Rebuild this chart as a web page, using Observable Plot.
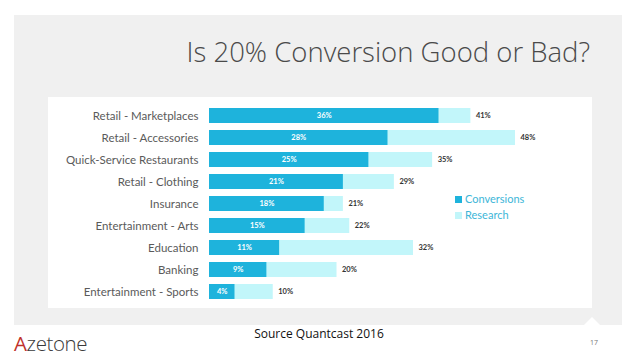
<!DOCTYPE html>
<html><head><meta charset="utf-8">
<script src="https://cdn.jsdelivr.net/npm/d3@7"></script>
<script src="https://cdn.jsdelivr.net/npm/@observablehq/plot@0.6"></script>
<style>
body{margin:0;width:638px;height:359px;background:#fff;position:relative;overflow:hidden;font-family:"Open Sans",sans-serif}
#panel{position:absolute;left:14px;top:15px;width:608px;height:310px;background:#f0f0f0}
#notch{position:absolute;left:584px;top:317px;width:0;height:0;border-left:8px solid transparent;border-right:8px solid transparent;border-bottom:8px solid #fff}
#title{position:absolute;right:48px;top:35px;font-size:27.5px;line-height:34px;font-weight:300;color:#4a4a4a;white-space:nowrap}
#box{position:absolute;left:48px;top:97px;width:544px;height:211px;background:#fff}
#chart{position:absolute;left:0;top:0}
#legend{position:absolute;left:407px;top:94px;font-family:Lato,sans-serif;font-size:11px;color:#3db6d8;line-height:16px}
#legend .sw{display:inline-block;width:7px;height:7px;margin-right:3px;vertical-align:0px}
#caption{position:absolute;left:0;width:638px;top:325px;text-align:center;font-size:12px;color:#111}
#logo{position:absolute;left:14px;top:329px;font-size:20.5px;font-weight:300;color:#3a3a3a;letter-spacing:-0.4px}
#logo span{color:#c0302a;font-weight:400}
#page{position:absolute;left:590px;top:338px;font-size:7px;color:#777}
</style>
</head><body>
<div id="panel"></div>
<div id="notch"></div>
<div id="title">Is 20% Conversion Good or Bad?</div>
<div id="box"><div id="chart"></div><div id="legend"></div></div>
<div id="caption">Source Quantcast 2016</div>
<div id="logo"><span>A</span>zetone</div>
<div id="page">17</div>
<script>
const categories = ["Retail - Marketplaces","Retail - Accessories","Quick-Service Restaurants","Retail - Clothing","Insurance","Entertainment - Arts","Education","Banking","Entertainment - Sports"];
const conversions = [36,28,25,21,18,15,11,9,4];
const research = [41,48,35,29,21,22,32,20,10];
const threshold = 20;
const seriesNames = ["Conversions","Research"];
const seriesColors = ["#1eb3dc","#c2f6fa"];

const rows = categories.map((c,i)=>({category:c, conv:conversions[i], res:research[i]}));

const chart = Plot.plot({
  width:544, height:211,
  marginLeft:161, marginRight:77, marginTop:4, marginBottom:3,
  x:{domain:[0,48], axis:null},
  y:{domain:categories, paddingInner:0.34, paddingOuter:0.17, label:null, tickSize:0, tickPadding:11},
  style:{fontFamily:"Lato, sans-serif", fontSize:"11.5px", color:"#5a5a5a", background:"transparent"},
  marks:[
    Plot.barX(rows,{y:"category", x:"res", fill:seriesColors[1]}),
    Plot.barX(rows,{y:"category", x:"conv", fill:seriesColors[0]}),
    Plot.text(rows,{y:"category", x:d=>d.conv/2, text:d=>d.conv+"%", fill:"white", fontWeight:"bold", fontSize:7.5}),
    Plot.text(rows,{y:"category", x:"res", text:d=>d.res+"%", dx:5, textAnchor:"start", fill:"#333", fontWeight:"bold", fontSize:7.5}),
    Plot.ruleX([threshold],{y1:categories[0], y2:categories[categories.length-1], stroke:"#b0252a", strokeWidth:1})
  ]
});
document.getElementById("chart").appendChild(chart);

const lg = document.getElementById("legend");
seriesNames.forEach((n,i)=>{
  const d = document.createElement("div");
  d.innerHTML = `<span class="sw" style="background:${seriesColors[i]}"></span>${n}`;
  lg.appendChild(d);
});
</script>
</body></html>
